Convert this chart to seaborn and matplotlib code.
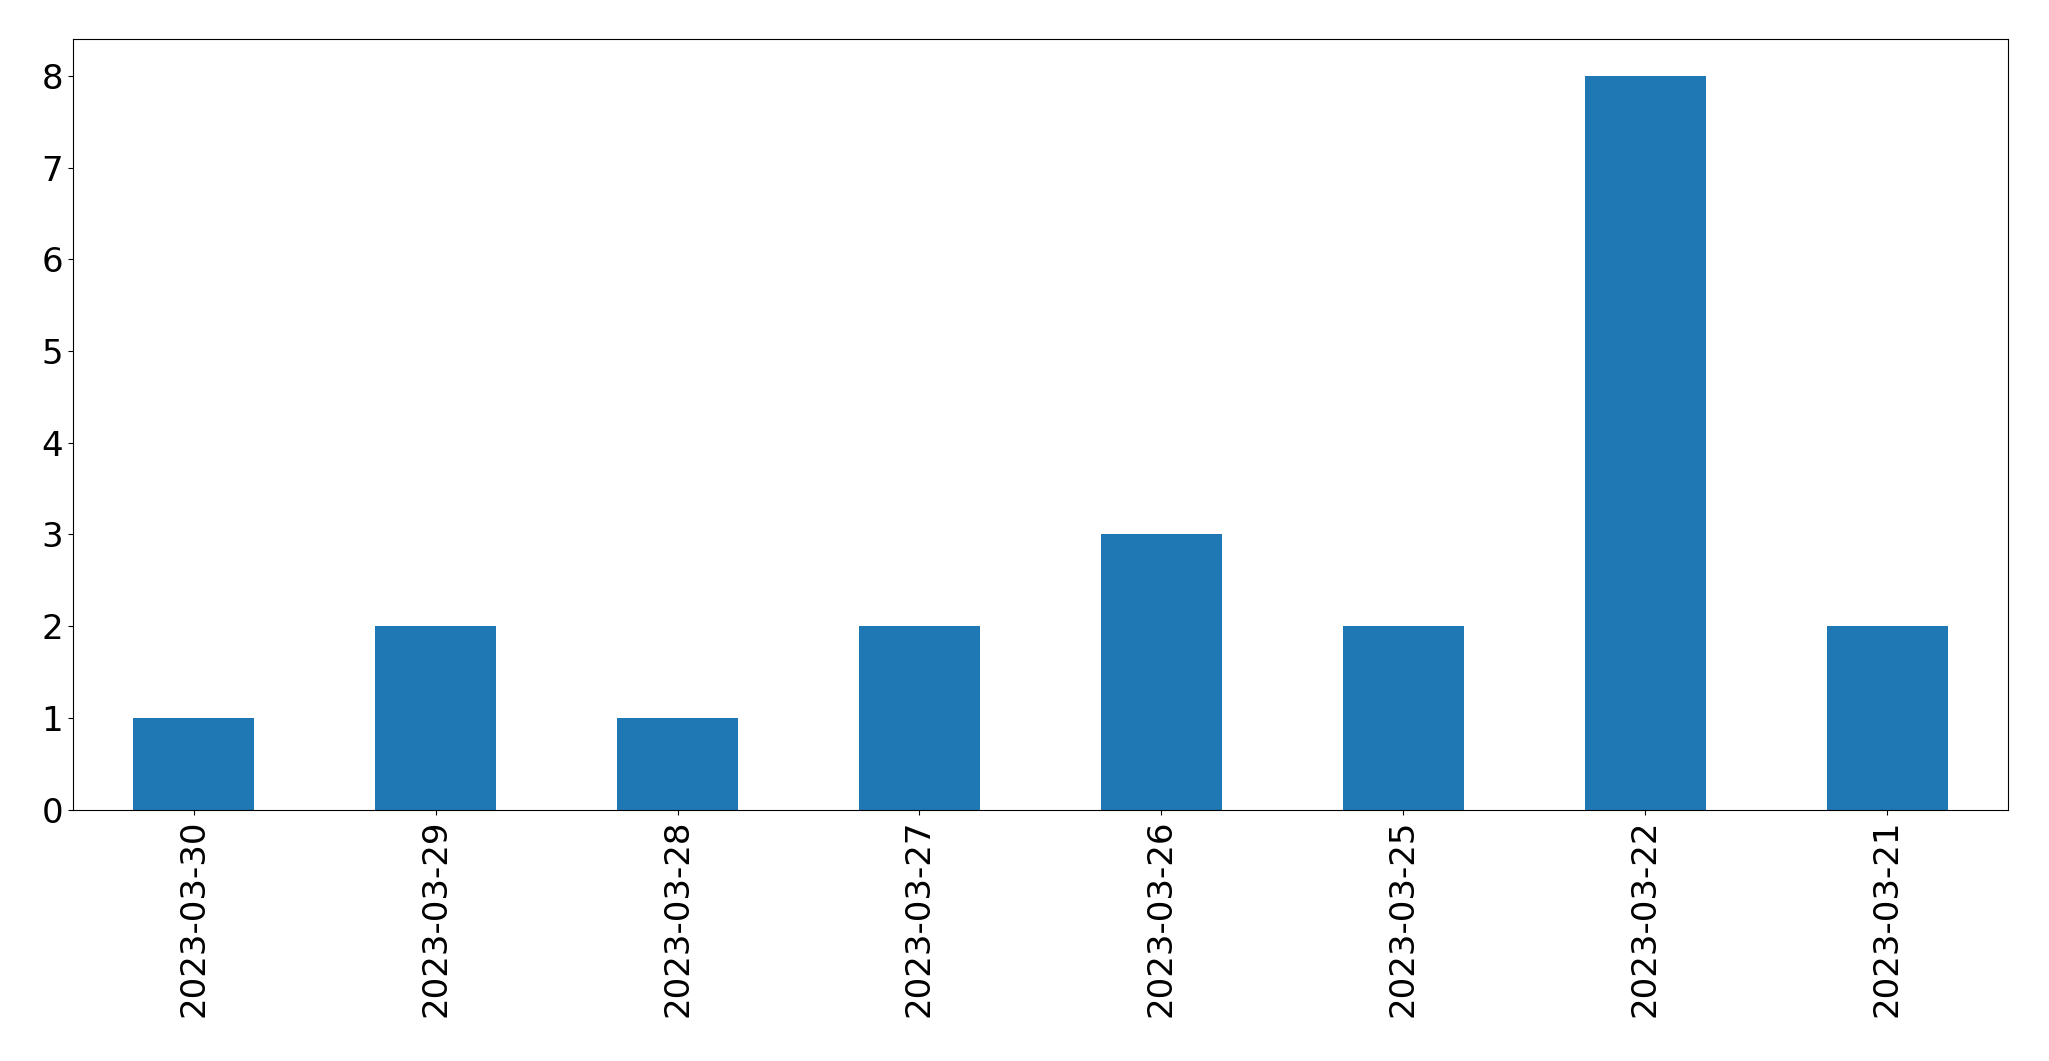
import matplotlib
matplotlib.use("Agg")
import matplotlib.pyplot as plt
import seaborn as sns
import pandas as pd

dates = ["2023-03-30", "2023-03-29", "2023-03-28", "2023-03-27",
         "2023-03-26", "2023-03-25", "2023-03-22", "2023-03-21"]
counts = [1, 2, 1, 2, 3, 2, 8, 2]

df = pd.DataFrame({"date": dates, "count": counts})

fig = plt.figure(figsize=(20.49, 10.61), dpi=100)
ax = fig.add_axes([0.0355, 0.237, 0.9445, 0.726])
sns.barplot(data=df, x="date", y="count", order=dates, color="#1f77b4",
            saturation=1, width=0.5, ax=ax)
ax.set_xlim(-0.5, len(dates) - 0.5)
ax.set_ylim(0, 8.4)
ax.set_yticks(range(0, 9))
ax.set_xlabel("")
ax.set_ylabel("")
ax.tick_params(axis="both", labelsize=24.5)
plt.setp(ax.get_xticklabels(), rotation=90)
for s in ax.spines.values():
    s.set_visible(True)
    s.set_color("black")
fig.savefig("out.png", dpi=100)
